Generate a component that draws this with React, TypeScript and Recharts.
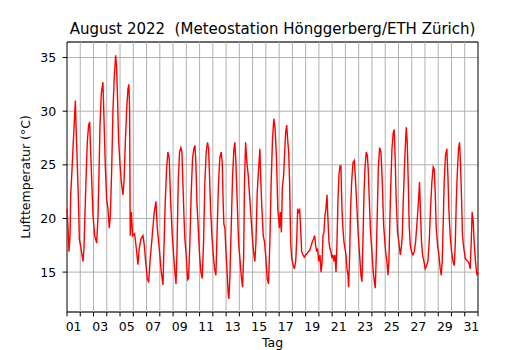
import { LineChart, Line, XAxis, YAxis, CartesianGrid, ReferenceLine, ReferenceArea } from 'recharts';

// time in days since 1 Aug 2022 00:00, temperature in °C
const days = [
  0, 0.08, 0.15, 0.23, 0.28, 0.38, 0.45, 0.55, 0.63, 0.68, 0.78, 0.88, 0.93,
  1.06, 1.21, 1.28, 1.36, 1.46, 1.53, 1.63, 1.71, 1.76, 1.86, 1.96,
  2.09, 2.24, 2.34, 2.41, 2.49, 2.59, 2.71, 2.79, 2.89, 2.99,
  3.09, 3.19, 3.27, 3.37, 3.47, 3.57, 3.67, 3.74, 3.82, 3.89, 3.99,
  4.1, 4.22, 4.3, 4.4, 4.5, 4.6, 4.67, 4.72, 4.77, 4.85, 4.95,
  5.1, 5.23, 5.35, 5.45, 5.58, 5.73, 5.83, 5.93,
  6.06, 6.16, 6.28, 6.43, 6.58, 6.71, 6.81, 6.96,
  7.11, 7.24, 7.31, 7.41, 7.51, 7.61, 7.71, 7.81, 7.94,
  8.04, 8.14, 8.22, 8.29, 8.39, 8.49, 8.59, 8.67, 8.74, 8.82, 8.89, 8.99,
  9.1, 9.17, 9.27, 9.37, 9.47, 9.57, 9.65, 9.72, 9.8, 9.9,
  10.0, 10.1, 10.2, 10.3, 10.4, 10.5, 10.6, 10.68, 10.75, 10.83, 10.93,
  11.03, 11.13, 11.23, 11.33, 11.43, 11.53, 11.63, 11.71, 11.78, 11.83, 11.91, 11.98,
  12.09, 12.16, 12.21, 12.29, 12.39, 12.49, 12.59, 12.66, 12.74, 12.84, 12.94,
  13.04, 13.14, 13.24, 13.32, 13.39, 13.47, 13.57, 13.67, 13.77, 13.87, 13.97,
  14.07, 14.17, 14.25, 14.35, 14.45, 14.55, 14.62, 14.7, 14.8, 14.9,
  15.0, 15.1, 15.2, 15.3, 15.4, 15.5, 15.6, 15.7, 15.8, 15.9,
  16.02, 16.09, 16.17, 16.24, 16.34, 16.42, 16.49, 16.57, 16.64, 16.72, 16.79, 16.87, 16.95,
  17.05, 17.15, 17.25, 17.32, 17.4, 17.47, 17.55, 17.62, 17.7, 17.8, 17.9,
  18.0, 18.1, 18.2, 18.3, 18.4, 18.5, 18.6, 18.68, 18.75, 18.83, 18.9, 18.98,
  19.08, 19.16, 19.23, 19.31, 19.38, 19.46, 19.53, 19.61, 19.68, 19.76, 19.83, 19.91, 19.99,
  20.06, 20.14, 20.21, 20.29, 20.36, 20.44, 20.51, 20.59, 20.66, 20.74, 20.81, 20.89, 20.97,
  21.04, 21.12, 21.19, 21.24, 21.32, 21.39, 21.47, 21.57, 21.67, 21.77, 21.87, 21.97,
  22.07, 22.17, 22.25, 22.32, 22.4, 22.47, 22.57, 22.65, 22.72, 22.8, 22.88, 22.98,
  23.08, 23.18, 23.25, 23.33, 23.4, 23.48, 23.58, 23.68, 23.78, 23.88,
  24.03, 24.13, 24.21, 24.28, 24.36, 24.43, 24.51, 24.61, 24.68, 24.76, 24.83, 24.93,
  25.03, 25.14, 25.21, 25.29, 25.36, 25.44, 25.51, 25.59, 25.66, 25.74, 25.81, 25.89, 25.99,
  26.09, 26.19, 26.29, 26.37, 26.44, 26.52, 26.59, 26.67, 26.74, 26.82, 26.92,
  27.02, 27.12, 27.22, 27.32, 27.42, 27.52, 27.62, 27.7, 27.77, 27.85, 27.95,
  28.05, 28.15, 28.23, 28.3, 28.38, 28.45, 28.55, 28.65, 28.73, 28.8, 28.9,
  29.01, 29.11, 29.21, 29.29, 29.36, 29.43, 29.53, 29.61, 29.68, 29.76, 29.83, 29.93,
  30.04, 30.14, 30.24, 30.34, 30.41, 30.49, 30.56, 30.64, 30.71, 30.81, 30.92, 31.0,
];

const temps = [
  20.9, 19.1, 16.9, 18.4, 22.2, 24.6, 26.5, 29.0, 31.0, 28.7, 24.9, 20.9, 18.1,
  17.2, 16.0, 17.2, 20.6, 24.6, 27.1, 28.7, 29.0, 27.1, 23.7, 20.3,
  18.4, 17.7, 20.3, 24.0, 28.7, 31.7, 32.7, 29.3, 24.9, 21.8,
  20.9, 19.1, 20.3, 24.6, 30.2, 33.3, 35.2, 34.2, 30.8, 27.4, 25.2,
  23.4, 22.2, 23.4, 27.1, 30.2, 32.1, 32.5, 30.2, 18.4, 20.6, 18.4,
  18.6, 17.2, 15.7, 17.2, 18.1, 18.4, 17.5, 16.0,
  14.3, 14.1, 16.3, 18.4, 20.6, 21.6, 19.1, 17.2,
  15.0, 13.8, 17.2, 21.5, 24.6, 26.2, 25.6, 21.8, 18.4,
  16.6, 15.0, 13.9, 16.6, 23.4, 26.2, 26.6, 26.2, 23.4, 20.3, 18.1, 16.6,
  14.3, 14.4, 17.8, 22.5, 25.6, 26.5, 26.8, 25.2, 21.5, 19.1,
  16.6, 15.0, 14.4, 17.8, 23.4, 26.2, 27.1, 26.5, 24.0, 20.9, 18.4,
  16.6, 15.3, 14.7, 19.1, 23.4, 25.7, 26.2, 25.2, 21.5, 19.5, 19.1, 17.2,
  14.7, 12.9, 12.5, 14.7, 19.4, 24.0, 26.5, 27.1, 25.2, 21.5, 17.8,
  16.3, 14.7, 13.6, 16.3, 23.4, 27.1, 25.2, 24.0, 22.2, 20.3, 18.4,
  16.9, 16.0, 17.8, 22.5, 24.6, 26.5, 23.4, 20.9, 18.4, 17.8,
  16.3, 14.4, 13.9, 17.8, 23.4, 27.4, 29.3, 28.3, 25.6, 20.9,
  19.1, 20.6, 18.7, 22.8, 24.0, 26.2, 28.0, 28.7, 27.4, 26.2, 23.4, 17.8, 16.3,
  15.7, 15.3, 16.0, 17.8, 20.9, 20.6, 20.8, 19.1, 16.9, 16.6, 16.4,
  16.6, 16.7, 16.9, 17.0, 17.4, 17.8, 18.1, 18.4, 17.5, 16.9, 17.2, 16.0,
  16.6, 15.0, 15.7, 18.4, 18.7, 20.3, 20.9, 22.2, 20.0, 17.8, 17.2, 16.9, 16.3,
  16.6, 16.0, 16.6, 15.0, 17.5, 21.8, 24.0, 24.9, 24.9, 20.9, 19.1, 17.8, 17.2,
  16.6, 15.3, 14.7, 13.6, 16.6, 20.9, 23.4, 25.2, 25.4, 23.4, 20.9, 18.4,
  16.6, 14.7, 14.1, 17.8, 22.2, 24.6, 26.2, 25.9, 24.6, 21.8, 19.1, 17.2,
  15.3, 14.1, 13.5, 16.6, 20.3, 24.6, 26.6, 26.2, 23.4, 19.4,
  16.9, 16.0, 14.7, 16.0, 20.3, 23.4, 26.5, 28.0, 28.3, 25.2, 21.8, 18.7,
  17.8, 16.6, 17.2, 18.4, 21.5, 24.3, 26.5, 28.5, 27.1, 23.4, 19.4, 17.5, 16.9,
  16.6, 16.9, 17.8, 19.1, 20.3, 21.8, 23.4, 20.3, 17.8, 16.6, 16.0,
  15.3, 15.6, 16.0, 17.8, 20.9, 23.4, 24.8, 24.6, 22.5, 19.1, 17.5,
  16.6, 15.3, 14.7, 16.0, 19.7, 23.4, 25.9, 26.5, 24.0, 20.9, 18.4,
  16.9, 16.0, 15.6, 17.8, 21.5, 24.0, 26.5, 27.1, 25.2, 21.8, 18.4, 17.2,
  16.3, 16.1, 16.0, 15.8, 15.3, 17.8, 20.6, 19.7, 17.8, 16.0, 14.7, 15.0,
];

const yTicks = [15, 20, 25, 30, 35];
const gridDays = [1, 2, 3, 4, 5, 6, 7, 8, 9, 10, 11, 12, 13, 14, 15, 16, 17, 18, 19, 20, 21, 22, 23, 24, 25, 26, 27, 28, 29, 30];
const dayLabels = ['01', '03', '05', '07', '09', '11', '13', '15', '17', '19', '21', '23', '25', '27', '29', '31'];
// labels sit at noon of the labelled day
const labelPos = dayLabels.map((l) => Number(l) - 0.5);
const xTicks = [0, ...gridDays, 31, ...labelPos].sort((a, b) => a - b);

const data = days.map((d, i) => ({ d, t: temps[i] }));

const FONT = 'DejaVu Sans';

function DayTick(props: any) {
  const { x, y, payload } = props;
  const v = payload.value;
  if (Number.isInteger(v)) {
    return <line x1={x} x2={x} y1={y} y2={y + 4.4} stroke="#000" strokeWidth={1} />;
  }
  const idx = labelPos.indexOf(v);
  if (idx < 0) return <g />;
  return (
    <text x={x} y={y + 18.5} textAnchor="middle" fontSize={12.5} fontFamily={FONT} fill="#000">
      {dayLabels[idx]}
    </text>
  );
}

export default function App() {
  return (
    <div style={{ position: 'absolute', left: 0, top: 0, background: '#fff' }}>
      <LineChart width={530} height={350} data={data} margin={{ top: 42, right: 52, bottom: 0, left: 0 }}>
        <CartesianGrid vertical={false} stroke="#b0b0b0" strokeWidth={1} />
        {gridDays.map((g) => (
          <ReferenceLine key={g} x={g} stroke="#b0b0b0" strokeWidth={1} />
        ))}
        <XAxis
          dataKey="d"
          type="number"
          domain={[0, 31]}
          ticks={xTicks}
          interval={0}
          tick={(p: any) => <DayTick {...p} />}
          tickLine={false}
          axisLine={false}
          tickSize={0}
          tickMargin={0}
          height={38}
        />
        <YAxis
          type="number"
          domain={[11.28, 36.45]}
          ticks={yTicks}
          width={67}
          axisLine={false}
          tickSize={4.4}
          tickMargin={6.5}
          tickLine={{ stroke: '#000' }}
          tick={{ fill: '#000', fontSize: 12.5, fontFamily: FONT }}
        />
        <Line dataKey="t" type="linear" dot={false} stroke="#ff0000" strokeWidth={1.4} isAnimationActive={false} />
        <ReferenceArea x1={0} x2={31} y1={11.28} y2={36.45} fill="none" stroke="#000" strokeWidth={1} />
        <text x={272.5} y={34} textAnchor="middle" fontSize={15} fontFamily={FONT} fill="#000" style={{ whiteSpace: 'pre' }}>
          {'August 2022  (Meteostation Hönggerberg/ETH Zürich)'}
        </text>
        <text transform="translate(29.5,177) rotate(-90)" textAnchor="middle" fontSize={12.5} fontFamily={FONT} fill="#000">
          Lufttemperatur (°C)
        </text>
        <text x={272.5} y={347} textAnchor="middle" fontSize={12.5} fontFamily={FONT} fill="#000">
          Tag
        </text>
      </LineChart>
    </div>
  );
}
